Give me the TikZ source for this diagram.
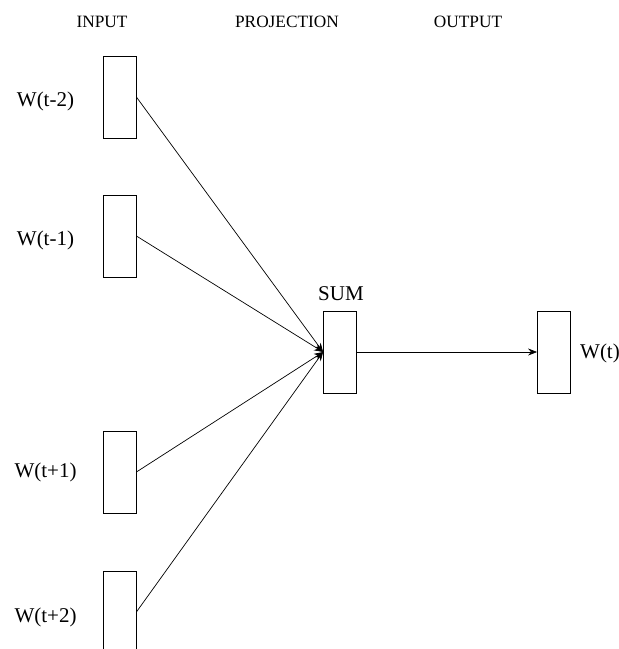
\documentclass[tikz,border=0pt]{standalone}
\usepackage{fontspec}
\setmainfont{Liberation Serif}
\usetikzlibrary{arrows.meta}
\begin{document}
\begin{tikzpicture}[x=1pt,y=-1pt,
  vbox/.style={draw,line width=0.8pt,minimum width=33pt,minimum height=82pt,inner sep=0pt},
  head/.style={font=\fontsize{17.3}{19}\selectfont,inner sep=0pt},
  lbl/.style={font=\fontsize{21}{23}\selectfont,inner sep=0pt},
  conn/.style={line width=0.7pt,-{Stealth[length=9pt,width=7pt]}}]
\useasboundingbox (0,0) rectangle (619,649);
\clip (0,0) rectangle (619,649);
\node[head] (hin) at (102,22) {INPUT};
\node[head] (hpr) at (287,22) {PROJECTION};
\node[head] (hout) at (468,22) {OUTPUT};
\node[vbox] (i1) at (119.5,97) {};
\node[vbox] (i2) at (119.5,236) {};
\node[vbox] (i3) at (119.5,472) {};
\node[vbox] (i4) at (119.5,612) {};
\node[vbox] (p) at (340,352) {};
\node[vbox] (o) at (554,352) {};
\node[lbl] (l1) at (45.5,101) {W(t-2)};
\node[lbl] (l2) at (45.5,240) {W(t-1)};
\node[lbl] (l3) at (45.5,472) {W(t+1)};
\node[lbl] (l4) at (45.5,617) {W(t+2)};
\node[lbl] (ls) at (341,294) {SUM};
\node[lbl] (lo) at (600,353) {W(t)};
\coordinate (pin) at (p.west);
\draw[conn] (i1.east) -- (pin);
\draw[conn] (i2.east) -- (pin);
\draw[conn] (i3.east) -- (pin);
\draw[conn] (i4.east) -- (pin);
\draw[conn] (p.east) -- (o.west);
\end{tikzpicture}
\end{document}
